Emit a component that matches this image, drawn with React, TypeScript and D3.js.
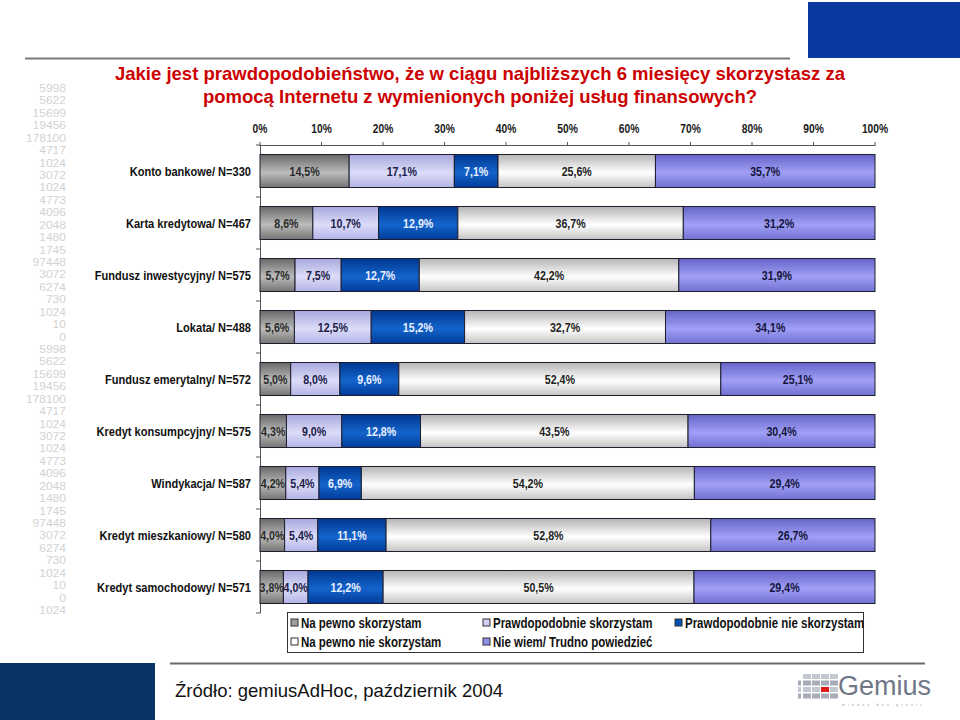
import React from "react";
import * as d3 from "d3";

const categories = [
  "Konto bankowe/ N=330",
  "Karta kredytowa/ N=467",
  "Fundusz inwestycyjny/ N=575",
  "Lokata/ N=488",
  "Fundusz emerytalny/ N=572",
  "Kredyt konsumpcyjny/ N=575",
  "Windykacja/ N=587",
  "Kredyt mieszkaniowy/ N=580",
  "Kredyt samochodowy/ N=571",
];
const seriesNames = [
  "Na pewno skorzystam",
  "Prawdopodobnie skorzystam",
  "Prawdopodobnie nie skorzystam",
  "Na pewno nie skorzystam",
  "Nie wiem/ Trudno powiedzieć",
];
const naPewnoSkorzystam = [14.5, 8.6, 5.7, 5.6, 5.0, 4.3, 4.2, 4.0, 3.8];
const prawdopodobnieSkorzystam = [17.1, 10.7, 7.5, 12.5, 8.0, 9.0, 5.4, 5.4, 4.0];
const prawdopodobnieNieSkorzystam = [7.1, 12.9, 12.7, 15.2, 9.6, 12.8, 6.9, 11.1, 12.2];
const naPewnoNieSkorzystam = [25.6, 36.7, 42.2, 32.7, 52.4, 43.5, 54.2, 52.8, 50.5];
const nieWiem = [35.7, 31.2, 31.9, 34.1, 25.1, 30.4, 29.4, 26.7, 29.4];
const xTicks = [0, 10, 20, 30, 40, 50, 60, 70, 80, 90, 100];
const watermark = [
  "5998", "5622", "15699", "19456", "178100", "4717", "1024", "3072", "1024", "4773", "4096",
  "2048", "1480", "1745", "97448", "3072", "6274", "730", "1024", "10", "0",
  "5998", "5622", "15699", "19456", "178100", "4717", "1024", "3072", "1024", "4773", "4096",
  "2048", "1480", "1745", "97448", "3072", "6274", "730", "1024", "10", "0", "1024",
];

const allSeries = [
  naPewnoSkorzystam,
  prawdopodobnieSkorzystam,
  prawdopodobnieNieSkorzystam,
  naPewnoNieSkorzystam,
  nieWiem,
];

const gradStops = [
  ["#686868", "#bcbcbc", "#747474"],
  ["#a8a8dc", "#dcdcfa", "#b4b4e6"],
  ["#003890", "#1464cc", "#003c98"],
  ["#b4b4b4", "#ffffff", "#c4c4c4"],
  ["#6464c8", "#a0a0f6", "#7070d2"],
];
const legendFill = ["#a0a0a0", "#d0d0f4", "#0050b4", "#ffffff", "#9090e8"];
const labelColors = ["#2a2a2a", "#1c1c48", "#e8eeff", "#222222", "#14143c"];

const arial = "'Liberation Sans', Arial, sans-serif";

function NText(props: {
  x: number;
  y: number;
  size: number;
  anchor?: string;
  fill?: string;
  weight?: string;
  sx?: number;
  children: React.ReactNode;
}) {
  const { x, y, size, anchor = "start", fill = "#111", weight = "bold", sx = 0.82, children } = props;
  return (
    <text
      transform={`translate(${x},${y}) scale(${sx},1)`}
      textAnchor={anchor}
      fontFamily={arial}
      fontWeight={weight}
      fontSize={size}
      fill={fill}
    >
      {children}
    </text>
  );
}

export default function App() {
  const W = 960;
  const H = 720;
  const x = d3.scaleLinear().domain([0, 1]).range([260, 875]);
  const y = d3
    .scaleBand<string>()
    .domain(categories)
    .range([145, 613])
    .paddingInner(0.365)
    .paddingOuter(0.1825);
  const step = y.step();

  const rows = categories.map((c, i) => {
    const o: any = { cat: c };
    seriesNames.forEach((s, k) => (o[s] = allSeries[k][i]));
    return o;
  });
  const stacked = d3.stack<any>().keys(seriesNames).offset(d3.stackOffsetExpand)(rows);

  const boundaries = d3.range(categories.length + 1).map((i) => 145 + i * step);

  const fmt = (v: number) => v.toFixed(1).replace(".", ",") + "%";

  const legendItems = [
    { k: 0, x: 291, y: 623 },
    { k: 1, x: 483, y: 623 },
    { k: 2, x: 675, y: 623 },
    { k: 3, x: 291, y: 642 },
    { k: 4, x: 483, y: 642 },
  ];

  const logoCols = [0, 1, 2, 3, 4];
  const logoRows = [0, 1, 2, 3];

  return (
    <svg width={W} height={H} style={{ position: "absolute", left: 0, top: 0, background: "#fff" }}>
      <defs>
        {gradStops.map((g, k) => (
          <linearGradient key={k} id={`g${k}`} x1="0" y1="0" x2="0" y2="1">
            <stop offset="0%" stopColor={g[0]} />
            <stop offset="55%" stopColor={g[1]} />
            <stop offset="100%" stopColor={g[2]} />
          </linearGradient>
        ))}
      </defs>
      <rect x={0} y={0} width={W} height={H} fill="#ffffff" />

      {/* header decorations */}
      <rect x={808} y={2} width={152} height={56} fill="#0a3aa0" />
      <line x1={25} x2={790} y1={58.5} y2={58.5} stroke="#7a7a7a" strokeWidth={2} />

      {/* watermark numbers */}
      {watermark.map((t, i) => (
        <NText key={i} x={66} y={92 + i * 12.43} size={10.2} anchor="end" weight="normal" fill="#d2d2d2" sx={1.18}>
          {t}
        </NText>
      ))}

      {/* title */}
      <text x={480} y={80} textAnchor="middle" fontFamily={arial} fontWeight="bold" fontSize={18.5} fill="#cc0000">
        Jakie jest prawdopodobieństwo, że w ciągu najbliższych 6 miesięcy skorzystasz za
      </text>
      <text x={480} y={103} textAnchor="middle" fontFamily={arial} fontWeight="bold" fontSize={18.5} fill="#cc0000">
        pomocą Internetu z wymienionych poniżej usług finansowych?
      </text>

      {/* x axis */}
      <line x1={x(0)} x2={x(1)} y1={145.5} y2={145.5} stroke="#555" strokeWidth={1} />
      {xTicks.map((t) => (
        <g key={t}>
          <line x1={x(t / 100)} x2={x(t / 100)} y1={142} y2={146} stroke="#555" />
          <NText x={x(t / 100)} y={132.5} size={12.5} anchor="middle" fill="#1a1a1a">
            {t}%
          </NText>
        </g>
      ))}

      {/* y axis */}
      <line x1={260.5} x2={260.5} y1={145} y2={613} stroke="#555" />
      {boundaries.map((b, i) => (
        <line key={i} x1={256} x2={260.5} y1={b} y2={b} stroke="#555" />
      ))}
      {categories.map((c) => (
        <NText key={c} x={251} y={(y(c) as number) + y.bandwidth() / 2 + 5} size={13.5} anchor="end" fill="#111">
          {c}
        </NText>
      ))}

      {/* bars */}
      {stacked.map((layer, k) => (
        <g key={k}>
          {layer.map((d, i) => {
            const c = categories[i];
            const x0 = x(d[0]);
            const x1 = x(d[1]);
            const yy = y(c) as number;
            return (
              <g key={i}>
                <rect
                  x={x0}
                  y={yy}
                  width={x1 - x0}
                  height={y.bandwidth()}
                  fill={`url(#g${k})`}
                  stroke="#1e1e2e"
                  strokeWidth={1}
                />
                <NText
                  x={(x0 + x1) / 2}
                  y={yy + y.bandwidth() / 2 + 4.5}
                  size={13}
                  anchor="middle"
                  fill={labelColors[k]}
                >
                  {fmt(allSeries[k][i])}
                </NText>
              </g>
            );
          })}
        </g>
      ))}

      {/* legend */}
      <rect x={287.5} y={612.5} width={576} height={40} fill="#fff" stroke="#333" strokeWidth={1} />
      {legendItems.map((it) => (
        <g key={it.k}>
          <rect x={it.x} y={it.y - 4} width={7} height={7} fill={legendFill[it.k]} stroke="#333" strokeWidth={1} />
          <NText x={it.x + 10} y={it.y + 4.5} size={14} fill="#111">
            {seriesNames[it.k]}
          </NText>
        </g>
      ))}

      {/* footer */}
      <rect x={0} y={663} width={155} height={57} fill="#0a3366" />
      <line x1={170} x2={925} y1={663.5} y2={663.5} stroke="#6a6a6a" strokeWidth={2} />
      <text x={175} y={697} fontFamily={arial} fontSize={18.5} fill="#111">
        Źródło: gemiusAdHoc, październik 2004
      </text>

      {/* Gemius logo */}
      <g>
        {logoCols.map((ci) =>
          logoRows.map((ri) => {
            const edge = ci === 0;
            if (edge && ri === 0) return null;
            const isRed = ci === 3 && ri === 2;
            const w = edge ? 3 : 8;
            const xx = edge ? 798 : 803 + (ci - 1) * 9;
            return (
              <rect
                key={`${ci}-${ri}`}
                x={xx}
                y={674 + ri * 6.5}
                width={w}
                height={5}
                fill={isRed ? "#e01818" : ri % 2 === 0 ? "#c4c8d0" : "#a8acb8"}
              />
            );
          })
        )}
        <text x={838} y={695} fontFamily={arial} fontSize={27} fill="#707888">
          Gemius
        </text>
        <text x={842} y={706} fontFamily={arial} fontSize={4} letterSpacing={3} fill="#a0a4b0">
          wiedza bez granic
        </text>
      </g>
    </svg>
  );
}
